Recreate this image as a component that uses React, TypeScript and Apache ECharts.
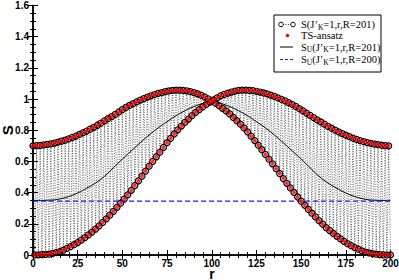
import React, { useEffect, useRef } from "react";
import * as echarts from "echarts";

// S(J'_K=1, r, R=201) at even sites r = 0, 2, ..., 200
const evenSiteS = [
  0.700, 0.701, 0.703, 0.706, 0.709, 0.713, 0.718, 0.724, 0.730, 0.737,
  0.745, 0.754, 0.763, 0.773, 0.784, 0.795, 0.807, 0.819, 0.832, 0.846,
  0.860, 0.874, 0.888, 0.902, 0.917, 0.932, 0.946, 0.959, 0.971, 0.982,
  0.993, 1.003, 1.013, 1.021, 1.029, 1.036, 1.042, 1.048, 1.052, 1.055,
  1.057, 1.057, 1.056, 1.053, 1.048, 1.042, 1.034, 1.025, 1.014, 1.001,
  0.988, 0.974, 0.958, 0.941, 0.924, 0.905, 0.883, 0.861, 0.839, 0.815,
  0.790, 0.762, 0.734, 0.705, 0.675, 0.645, 0.615, 0.585, 0.554, 0.522,
  0.490, 0.460, 0.430, 0.401, 0.372, 0.345, 0.319, 0.293, 0.268, 0.244,
  0.220, 0.198, 0.176, 0.157, 0.138, 0.120, 0.103, 0.087, 0.073, 0.060,
  0.048, 0.037, 0.026, 0.019, 0.013, 0.008, 0.005, 0.003, 0.001, 0.000,
  0.000,
];

// S(J'_K=1, r, R=201) at odd sites r = 1, 3, ..., 199
const oddSiteS = [
  0.000, 0.001, 0.002, 0.004, 0.006, 0.010, 0.016, 0.022, 0.031, 0.042,
  0.054, 0.066, 0.080, 0.095, 0.111, 0.129, 0.147, 0.166, 0.187, 0.209,
  0.232, 0.256, 0.280, 0.306, 0.332, 0.358, 0.386, 0.415, 0.445, 0.475,
  0.506, 0.538, 0.570, 0.600, 0.630, 0.660, 0.690, 0.720, 0.748, 0.776,
  0.803, 0.827, 0.850, 0.872, 0.894, 0.915, 0.933, 0.950, 0.966, 0.981,
  0.995, 1.008, 1.020, 1.030, 1.038, 1.045, 1.051, 1.055, 1.057, 1.057,
  1.056, 1.054, 1.050, 1.045, 1.039, 1.033, 1.025, 1.017, 1.008, 0.998,
  0.988, 0.977, 0.966, 0.953, 0.939, 0.925, 0.910, 0.895, 0.881, 0.867,
  0.853, 0.839, 0.825, 0.813, 0.801, 0.790, 0.779, 0.768, 0.759, 0.750,
  0.741, 0.734, 0.727, 0.721, 0.716, 0.711, 0.708, 0.704, 0.702, 0.700,
];

// TS-ansatz: coincides with the DMRG points at every site
const tsEvenS = evenSiteS;
const tsOddS = oddSiteS;

// S_U(J'_K=1, r, R=201), sampled every 5 sites
const suR = [
  0, 5, 10, 15, 20, 25, 30, 35, 40, 45, 50, 55, 60, 65, 70, 75, 80, 85, 90, 95,
  100, 105, 110, 115, 120, 125, 130, 135, 140, 145, 150, 155, 160, 165, 170,
  175, 180, 185, 190, 195, 200,
];
const suValues = [
  0.350, 0.350, 0.352, 0.360, 0.375, 0.398, 0.428, 0.462, 0.505, 0.560,
  0.615, 0.668, 0.720, 0.770, 0.815, 0.855, 0.893, 0.925, 0.952, 0.972,
  0.985, 0.972, 0.952, 0.925, 0.893, 0.855, 0.815, 0.770, 0.720, 0.668,
  0.615, 0.560, 0.505, 0.462, 0.428, 0.398, 0.375, 0.360, 0.352, 0.350,
  0.350,
];

// S_U(J'_K=1, r, R=200): constant
const su200R = [0, 200];
const su200Values = [0.345, 0.345];

const xTicks = [0, 25, 50, 75, 100, 125, 150, 175, 200];
const yTicks = [0, 0.2, 0.4, 0.6, 0.8, 1, 1.2, 1.4, 1.6];

function buildSites(even: number[], odd: number[]) {
  const out: number[][] = [];
  for (let r = 0; r <= 200; r++) {
    out.push([r, r % 2 === 0 ? even[r / 2] : odd[(r - 1) / 2]]);
  }
  return out;
}

const serif = "Liberation Serif";
const sans = "Liberation Sans";

export default function App() {
  const ref = useRef<HTMLDivElement>(null);
  useEffect(() => {
    document.body.style.margin = "0";
    const chart = echarts.init(ref.current!, null, { renderer: "svg" });
    const sites = buildSites(evenSiteS, oddSiteS);
    const ts = buildSites(tsEvenS, tsOddS);
    const su = suR.map((r, i) => [r, suValues[i]]);
    const su200 = su200R.map((r, i) => [r, su200Values[i]]);

    const axisCommon = {
      axisLine: { show: true, lineStyle: { color: "#000", width: 1.5 } },
      axisTick: { show: true, inside: true, length: 5, lineStyle: { color: "#000", width: 1 } },
      minorTick: { show: true, length: 3, lineStyle: { color: "#000", width: 1 } },
      splitLine: { show: false },
    };
    const labelStyle = {
      color: "#000",
      fontFamily: sans,
      fontWeight: "bold" as const,
      fontSize: 10,
    };

    const rich = {
      n: { fontFamily: serif, fontSize: 10.5, color: "#000", lineHeight: 13, verticalAlign: "middle" },
      s: { fontFamily: serif, fontSize: 7.5, color: "#000", lineHeight: 7, verticalAlign: "bottom" },
    };
    const legendX = 274;
    const legendY = 15;
    const textX = 301;
    const rows = [24.5, 35.5, 47, 59.5];

    chart.setOption({
      animation: false,
      grid: {
        left: 33,
        right: 8.5,
        top: 5.5,
        bottom: 25,
        containLabel: false,
        outerBoundsMode: "none",
      },
      xAxis: [
        {
          type: "value",
          min: xTicks[0],
          max: xTicks[xTicks.length - 1],
          interval: 25,
          position: "bottom",
          ...axisCommon,
          minorTick: { ...axisCommon.minorTick, splitNumber: 5 },
          axisLabel: { ...labelStyle, margin: 3, lineHeight: 10 },
        },
        {
          type: "value",
          min: xTicks[0],
          max: xTicks[xTicks.length - 1],
          interval: 25,
          position: "top",
          ...axisCommon,
          minorTick: { ...axisCommon.minorTick, splitNumber: 5 },
          axisLabel: { show: false },
        },
      ],
      yAxis: [
        {
          type: "value",
          min: yTicks[0],
          max: yTicks[yTicks.length - 1],
          interval: 0.2,
          position: "left",
          ...axisCommon,
          minorTick: { ...axisCommon.minorTick, splitNumber: 4 },
          axisLabel: {
            ...labelStyle,
            margin: 4,
            formatter: (v: number) => String(+v.toFixed(1)),
          },
          name: "S",
          nameLocation: "middle",
          nameGap: 18,
          nameRotate: 90,
          nameMoveOverlap: false,
          nameTextStyle: { color: "#000", fontFamily: sans, fontWeight: "bold", fontSize: 15 },
        },
        {
          type: "value",
          min: yTicks[0],
          max: yTicks[yTicks.length - 1],
          interval: 0.2,
          position: "right",
          ...axisCommon,
          minorTick: { ...axisCommon.minorTick, splitNumber: 4 },
          axisLabel: { show: false },
        },
      ],
      series: [
        {
          name: "S(J'K=1,r,R=201)",
          type: "line",
          data: sites,
          symbol: "circle",
          symbolSize: 6,
          showAllSymbol: true,
          itemStyle: { color: "rgba(0,0,0,0)", borderColor: "#000", borderWidth: 1.2 },
          lineStyle: { color: "#000", width: 0.6, type: [1, 1.5] },
          z: 2,
        },
        {
          name: "S_U(J'K=1,r,R=201)",
          type: "line",
          data: su,
          smooth: true,
          symbol: "none",
          lineStyle: { color: "#000", width: 1 },
          z: 3,
        },
        {
          name: "S_U(J'K=1,r,R=200)",
          type: "line",
          data: su200,
          symbol: "none",
          lineStyle: { color: "#1a1aff", width: 1.2, type: [5, 3] },
          z: 3,
        },
        {
          name: "TS-ansatz",
          type: "scatter",
          data: ts,
          symbol: "circle",
          symbolSize: 4,
          itemStyle: { color: "#ff0000" },
          z: 4,
        },
      ],
      graphic: [
        {
          type: "text",
          x: 212,
          y: 274,
          style: {
            text: "r",
            fill: "#000",
            fontFamily: sans,
            fontWeight: "bold",
            fontSize: 14,
            lineHeight: 9,
            align: "center",
            verticalAlign: "middle",
          },
        },
        {
          type: "group",
          z: 100,
          children: [
            {
              type: "rect",
              shape: { x: legendX, y: legendY, width: 107, height: 57 },
              style: { fill: "#fff", stroke: "#000", lineWidth: 1 },
            },
            {
              type: "line",
              shape: { x1: 283, y1: rows[0], x2: 291, y2: rows[0] },
              style: { stroke: "#000", lineWidth: 0.8, lineDash: [1, 1.5] },
            },
            { type: "circle", shape: { cx: 281, cy: rows[0], r: 2.3 }, style: { fill: "none", stroke: "#000", lineWidth: 1 } },
            { type: "circle", shape: { cx: 293, cy: rows[0], r: 2.3 }, style: { fill: "none", stroke: "#000", lineWidth: 1 } },
            { type: "circle", shape: { cx: 287.5, cy: rows[1], r: 1.8 }, style: { fill: "#ff0000" } },
            {
              type: "line",
              shape: { x1: 280, y1: rows[2], x2: 293, y2: rows[2] },
              style: { stroke: "#000", lineWidth: 1 },
            },
            {
              type: "line",
              shape: { x1: 280, y1: rows[3], x2: 294, y2: rows[3] },
              style: { stroke: "#1a1aff", lineWidth: 1, lineDash: [3, 2] },
            },
            {
              type: "text",
              x: textX,
              y: rows[0],
              style: { text: "{n|S(J’}{s|K}{n|=1,r,R=201)}", rich, verticalAlign: "middle" },
            },
            {
              type: "text",
              x: textX,
              y: rows[1],
              style: { text: "{n|TS-ansatz}", rich, verticalAlign: "middle" },
            },
            {
              type: "text",
              x: textX,
              y: rows[2],
              style: { text: "{n|S}{s|U}{n|(J’}{s|K}{n|=1,r,R=201)}", rich, verticalAlign: "middle" },
            },
            {
              type: "text",
              x: textX,
              y: rows[3],
              style: { text: "{n|S}{s|U}{n|(J’}{s|K}{n|=1,r,R=200)}", rich, verticalAlign: "middle" },
            },
          ],
        },
      ],
    });
    return () => chart.dispose();
  }, []);
  return <div ref={ref} style={{ width: 399, height: 280 }} />;
}
